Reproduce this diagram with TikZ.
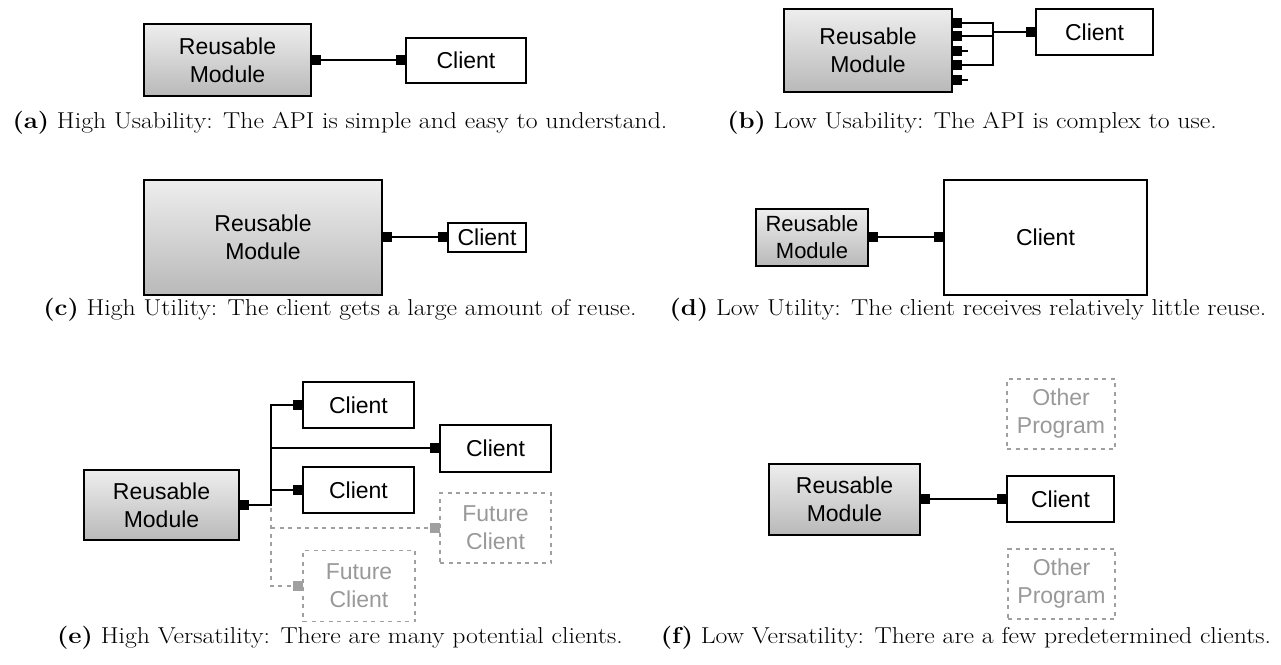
\documentclass[tikz,border=0pt]{standalone}
\usepackage{graphicx}
\usepackage{fontspec}
\newfontfamily\boxfont{Liberation Sans}
\definecolor{gtop}{HTML}{EEEEEE}
\definecolor{gbot}{HTML}{B9B9B9}
\definecolor{fgray}{HTML}{A0A0A0}
\definecolor{ftext}{HTML}{999999}
\newcommand{\capbox}[1]{\scalebox{1.12}[1]{#1}}
\begin{document}
\begin{tikzpicture}[x=1pt,y=-1pt,
  boxtext/.style={font=\boxfont\fontsize{23}{28}\selectfont, align=center, inner sep=0pt},
  module/.style={boxtext, draw, line width=2pt, top color=gtop, bottom color=gbot},
  client/.style={boxtext, draw, line width=2pt, fill=white},
  future/.style={boxtext, draw=fgray, line width=1.6pt, dash pattern=on 4pt off 4.5pt, text=ftext},
  port/.style={fill=black, inner sep=0pt, minimum width=10pt, minimum height=10pt},
  gport/.style={fill=fgray, inner sep=0pt, minimum width=10pt, minimum height=10pt},
  wire/.style={line width=2pt},
  gwire/.style={line width=1.6pt, draw=fgray, dash pattern=on 4pt off 4.5pt},
  capt/.style={font=\fontsize{23}{27}\selectfont, anchor=base, inner sep=0pt}
]
\useasboundingbox (0,0) rectangle (1281,664);

% (a)
\node[module, minimum width=167pt, minimum height=72pt] (ma) at (227.5,60) {Reusable\\Module};
\node[client, minimum width=120pt, minimum height=45pt] (ca) at (466,60) {Client};
\node[port] (pma) at (316,60) {};
\node[port] (pca) at (401,60) {};
\draw[wire] (pma.east) -- (pca.west);
\node[capt] (capa) at (340,128) {\capbox{\textbf{(a)} High Usability: The API is simple and easy to understand.}};

% (b)
\node[module, minimum width=168pt, minimum height=83pt] (mb) at (868,50) {Reusable\\Module};
\node[client, minimum width=117pt, minimum height=46pt] (cb) at (1094.5,32) {Client};
\node[port] (pb1) at (957,23) {};
\node[port] (pb2) at (957,36) {};
\node[port] (pb3) at (957,51) {};
\node[port] (pb4) at (957,65) {};
\node[port] (pb5) at (957,80) {};
\node[port] (pcb) at (1031,32) {};
\coordinate (jb1) at (993,23);
\coordinate (jb2) at (993,36);
\coordinate (jbc) at (993,32);
\coordinate (jb4) at (993,65);
\draw[wire] (pb1.east) -- (jb1) -- (jb4) -- (pb4.east);
\draw[wire] (pb2.east) -- (jb2);
\draw[wire] (jbc) -- (pcb.west);
\draw[wire] (pb3.east) -- ++(6,0);
\draw[wire] (pb5.east) -- ++(6,0);
\node[capt] (capb) at (972,128) {\capbox{\textbf{(b)} Low Usability: The API is complex to use.}};

% (c)
\node[module, minimum width=238pt, minimum height=115pt] (mc) at (263,237) {Reusable\\Module};
\node[client, minimum width=78pt, minimum height=29pt] (cc) at (487,237) {Client};
\node[port] (pmc) at (387,237) {};
\node[port] (pcc) at (443,237) {};
\draw[wire] (pmc.east) -- (pcc.west);
\node[capt] (capc) at (340,315) {\capbox{\textbf{(c)} High Utility: The client gets a large amount of reuse.}};

% (d)
\node[module, minimum width=112pt, minimum height=57pt, font=\boxfont\fontsize{22}{27}\selectfont] (md) at (812,237) {Reusable\\Module};
\node[client, minimum width=203pt, minimum height=115pt] (cd) at (1045.5,237) {Client};
\node[port] (pmd) at (873,237) {};
\node[port] (pcd) at (939,237) {};
\draw[wire] (pmd.east) -- (pcd.west);
\node[capt] (capd) at (968,315) {\capbox{\textbf{(d)} Low Utility: The client receives relatively little reuse.}};

% (e)
\node[module, minimum width=155pt, minimum height=70pt] (me) at (161.5,505) {Reusable\\Module};
\node[client, minimum width=111pt, minimum height=46pt] (ce1) at (358.5,405) {Client};
\node[client, minimum width=111pt, minimum height=47pt] (ce2) at (495.5,448) {Client};
\node[client, minimum width=111pt, minimum height=46pt] (ce3) at (358.5,490) {Client};
\node[future, minimum width=111pt, minimum height=70pt] (fe1) at (495.5,528) {Future\\Client};
\node[future, minimum width=112pt, minimum height=71pt] (fe2) at (359,586) {Future\\Client};
\node[port] (pme) at (244,505) {};
\node[port] (pce1) at (298,405) {};
\node[port] (pce2) at (435,448) {};
\node[port] (pce3) at (298,490) {};
\node[gport] (pfe1) at (435,528) {};
\node[gport] (pfe2) at (298,586) {};
\coordinate (je0) at (271,505);
\coordinate (je1) at (271,405);
\coordinate (je2) at (271,448);
\coordinate (je3) at (271,490);
\coordinate (je4) at (271,528);
\coordinate (je5) at (271,586);
\coordinate (jeg) at (271,508);
\draw[gwire] (jeg) -- (je5) -- (pfe2.west);
\draw[gwire] (je4) -- (pfe1.west);
\draw[wire] (pme.east) -- (je0) -- (je1) -- (pce1.west);
\draw[wire] (je2) -- (pce2.west);
\draw[wire] (je3) -- (pce3.west);
\node[capt] (cape) at (340,643) {\capbox{\textbf{(e)} High Versatility: There are many potential clients.}};

% (f)
\node[module, minimum width=151pt, minimum height=71pt] (mf) at (844.5,499) {Reusable\\Module};
\node[client, minimum width=107pt, minimum height=46pt] (cf) at (1060.5,499) {Client};
\node[future, minimum width=108pt, minimum height=70pt] (of1) at (1061,414) {Other\\Program};
\node[future, minimum width=107pt, minimum height=70pt] (of2) at (1061.5,584) {Other\\Program};
\node[port] (pmf) at (925,499) {};
\node[port] (pcf) at (1002,499) {};
\draw[wire] (pmf.east) -- (pcf.west);
\node[capt] (capf) at (966,643) {\capbox{\textbf{(f)} Low Versatility: There are a few predetermined clients.}};
\end{tikzpicture}
\end{document}
